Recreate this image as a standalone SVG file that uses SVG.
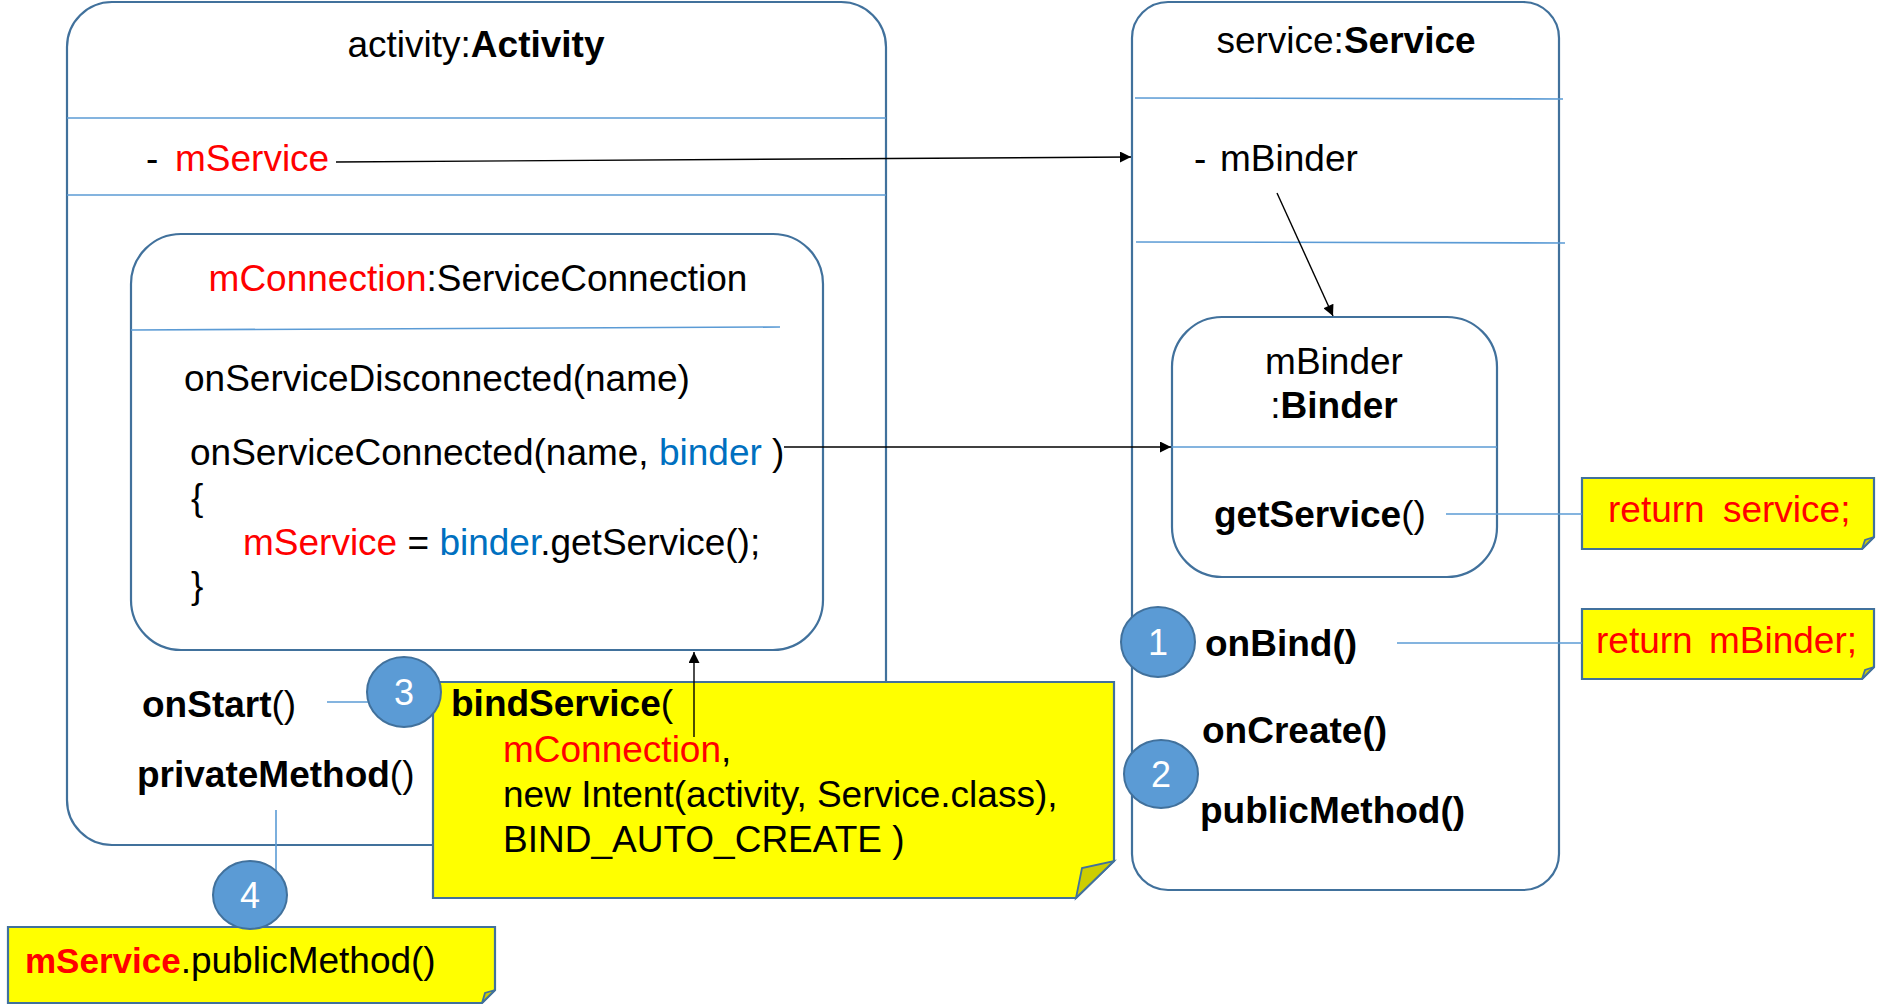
<svg xmlns="http://www.w3.org/2000/svg" width="1885" height="1005" viewBox="0 0 1885 1005">
<style>
.box{fill:#fff;stroke:#41719c;stroke-width:2.2}
.div{stroke:#5b9bd5;stroke-width:1.6;fill:none}
.note{fill:#ffff00;stroke:#41719c;stroke-width:2.2}
.fold{fill:#cdcd00;stroke:#41719c;stroke-width:1.8}
.t{font-family:"Liberation Sans",Arial,sans-serif;font-size:37px;fill:#000}
.b{font-weight:bold}
.red{fill:#ff0000}
.blu{fill:#0070c0}
.arrow{stroke:#000;stroke-width:1.4;fill:none}
.link{stroke:#5b9bd5;stroke-width:1.6;fill:none}
.num{fill:#5b9bd5;stroke:#41719c;stroke-width:2}
.numt{font-family:"Liberation Sans",Arial,sans-serif;font-size:36px;fill:#fff;text-anchor:middle}
</style>
<defs>
<marker id="arr" viewBox="0 0 10 10" refX="10" refY="5" markerWidth="12" markerHeight="11" markerUnits="userSpaceOnUse" orient="auto">
<path d="M0,0 L10,5 L0,10 z" fill="#000"/>
</marker>
</defs>

<g id="activity">
<rect class="box" x="67" y="2" width="819" height="843" rx="45" ry="45"/>
<line class="div" x1="67" y1="118" x2="886" y2="118"/>
<line class="div" x1="67" y1="195" x2="886" y2="195"/>
<text class="t" x="476" y="57" text-anchor="middle" font-size="36">activity:<tspan class="b">Activity</tspan></text>
<text class="t" x="146" y="171">-</text>
<text class="t red" x="175" y="171">mService</text>
<text class="t" x="142" y="717" font-size="35"><tspan class="b">onStart</tspan>()</text>
<text class="t" x="137" y="787" font-size="36"><tspan class="b">privateMethod</tspan>()</text>
</g>

<g id="mConnection">
<rect class="box" x="131" y="234" width="692" height="416" rx="50" ry="50"/>
<line class="div" x1="131" y1="330" x2="780" y2="327"/>
<text class="t" x="478" y="291" text-anchor="middle" font-size="38"><tspan class="red">mConnection</tspan>:ServiceConnection</text>
<text class="t" x="184" y="391" font-size="37.4">onServiceDisconnected(name)</text>
<text class="t" x="190" y="465" font-size="37.6">onServiceConnected(name, <tspan class="blu">binder</tspan> )</text>
<text class="t" x="191" y="510">{</text>
<text class="t" x="243" y="555" font-size="37.8"><tspan class="red">mService</tspan> = <tspan class="blu">binder</tspan>.getService();</text>
<text class="t" x="191" y="598">}</text>
</g>

<g id="service">
<rect class="box" x="1132" y="2" width="427" height="888" rx="36" ry="36"/>
<line class="div" x1="1135" y1="98" x2="1563" y2="99"/>
<line class="div" x1="1136" y1="242" x2="1565" y2="243"/>
<text class="t" x="1346" y="53" text-anchor="middle" font-size="35">service:<tspan class="b">Service</tspan></text>
<text class="t" x="1194" y="171">-</text>
<text class="t" x="1220" y="171">mBinder</text>
<text class="t b" x="1205" y="656" font-size="35">onBind()</text>
<text class="t b" x="1202" y="743" font-size="35">onCreate()</text>
<text class="t b" x="1200" y="823" font-size="36">publicMethod()</text>
</g>

<g id="binder">
<rect class="box" x="1172" y="317" width="325" height="260" rx="50" ry="50"/>
<line class="div" x1="1172" y1="447" x2="1497" y2="447"/>
<text class="t" x="1334" y="374" text-anchor="middle" font-size="36">mBinder</text>
<text class="t" x="1334" y="418" text-anchor="middle" font-size="35">:<tspan class="b">Binder</tspan></text>
<text class="t" x="1214" y="527" font-size="35"><tspan class="b">getService</tspan>()</text>
</g>

<g id="note-bind">
<path class="note" d="M433,682 L1114,682 L1114,861 L1076,898 L433,898 Z"/>
<path class="fold" d="M1076,898 L1082,868 L1114,861 Z"/>
<text class="t" x="451" y="716" font-size="35"><tspan class="b">bindService</tspan>(</text>
<text class="t" x="503" y="762"><tspan class="red">mConnection</tspan>,</text>
<text class="t" x="503" y="807">new Intent(activity, Service.class),</text>
<text class="t" x="503" y="852">BIND_AUTO_CREATE )</text>
</g>

<g id="note-public">
<path class="note" d="M8,927 L495,927 L495,990 L482,1003 L8,1003 Z"/>
<path class="fold" d="M482,1003 L485,993 L495,990 Z"/>
<text class="t" x="25" y="973" font-size="37.5"><tspan class="b red" font-size="35">mService</tspan>.publicMethod()</text>
</g>

<g id="note-service">
<path class="note" d="M1582,478 L1874,478 L1874,537 L1862,549 L1582,549 Z"/>
<path class="fold" d="M1862,549 L1865,540 L1874,537 Z"/>
<text class="t red" x="1608" y="522" word-spacing="8">return service;</text>
</g>

<g id="note-binder">
<path class="note" d="M1582,609 L1874,609 L1874,667 L1862,679 L1582,679 Z"/>
<path class="fold" d="M1862,679 L1865,670 L1874,667 Z"/>
<text class="t red" x="1596" y="653" word-spacing="6">return mBinder;</text>
</g>

<g id="connectors">
<line class="arrow" x1="336" y1="162" x2="1131" y2="157" marker-end="url(#arr)"/>
<line class="arrow" x1="1277" y1="193" x2="1333" y2="316" marker-end="url(#arr)"/>
<line class="arrow" x1="784" y1="447" x2="1171" y2="447" marker-end="url(#arr)"/>
<line class="arrow" x1="694" y1="737" x2="694" y2="652" marker-end="url(#arr)"/>
<line class="link" x1="1446" y1="514" x2="1582" y2="514"/>
<line class="link" x1="1397" y1="643" x2="1582" y2="643"/>
<line class="link" x1="327" y1="702" x2="370" y2="702"/>
<line class="link" x1="276" y1="810" x2="276" y2="870"/>
</g>

<g id="step1">
<ellipse class="num" cx="1158" cy="642" rx="37" ry="35"/>
<text class="numt" x="1158" y="655">1</text>
</g>
<g id="step2">
<ellipse class="num" cx="1161" cy="774" rx="37" ry="34"/>
<text class="numt" x="1161" y="787">2</text>
</g>
<g id="step3">
<ellipse class="num" cx="404" cy="692" rx="37" ry="35"/>
<text class="numt" x="404" y="705">3</text>
</g>
<g id="step4">
<ellipse class="num" cx="250" cy="895" rx="37" ry="34"/>
<text class="numt" x="250" y="908">4</text>
</g>
</svg>
